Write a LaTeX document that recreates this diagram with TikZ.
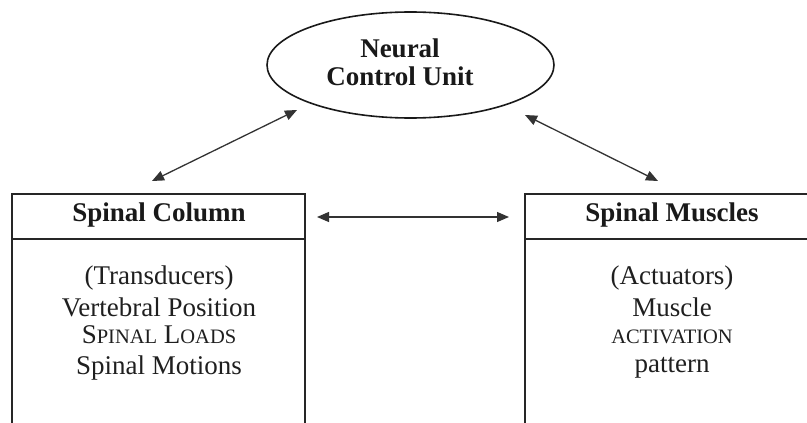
\documentclass[tikz,border=0pt]{standalone}
\usepackage{fontspec}
\setmainfont{Liberation Serif}
\usetikzlibrary{arrows.meta,shapes.geometric}
\tikzset{
  boxline/.style={line width=2pt, draw=black!85},
  title/.style={font=\fontsize{27}{30}\selectfont\bfseries, text=black!90, anchor=center, inner sep=0pt},
  body/.style={font=\fontsize{27}{30}\selectfont, text=black!88, anchor=center, inner sep=0pt},
  link/.style={line width=1.3pt, draw=black!80, {Triangle[length=12pt,width=10pt]}-{Triangle[length=12pt,width=10pt]}},
}
\newcommand{\smc}[1]{{\fontsize{20.5}{24}\selectfont #1}}
\begin{document}
\begin{tikzpicture}[x=1pt,y=-1pt]
\useasboundingbox (0,0) rectangle (807,423);
\clip (0,0) rectangle (807,423);
% ellipse
\node[ellipse, draw=black!90, line width=1.6pt, minimum width=287pt, minimum height=106pt, inner sep=0pt] (ncu) at (410.5,65) {};
\node[title] (ncu1) at (400,48) {Neural};
\node[title] (ncu2) at (400,76) {Control Unit};
% left box
\draw[boxline] (12,440) -- (12,194) -- (305,194) -- (305,440);
\draw[boxline] (12,239) -- (305,239);
\node[title] (sc) at (159,215) {Spinal Column};
\node[body] (l1) at (159,278) {(Transducers)};
\node[body] (l2) at (159,307) {Vertebral Position};
\node[body] (l3) at (159,335) {S\smc{PINAL} L\smc{OADS}};
\node[body] (l4) at (159,368) {Spinal Motions};
% right box
\draw[boxline] (525,440) -- (525,194) -- (820,194);
\draw[boxline] (525,239) -- (820,239);
\node[title] (sm) at (672,215) {Spinal Muscles};
\node[body] (r1) at (672,278) {(Actuators)};
\node[body] (r2) at (672,307) {Muscle};
\node[body] (r3) at (672,337) {\smc{ACTIVATION}};
\node[body] (r4) at (672,368) {pattern};
% arrow ends
\coordinate (a1) at (297,110);
\coordinate (a2) at (152,181);
\coordinate (b1) at (525,115);
\coordinate (b2) at (658,181);
\coordinate (c1) at (317,217);
\coordinate (c2) at (509,217);
\draw[link] (a2) -- (a1);
\draw[link] (b1) -- (b2);
\draw[link] (c1) -- (c2);
\end{tikzpicture}
\end{document}
